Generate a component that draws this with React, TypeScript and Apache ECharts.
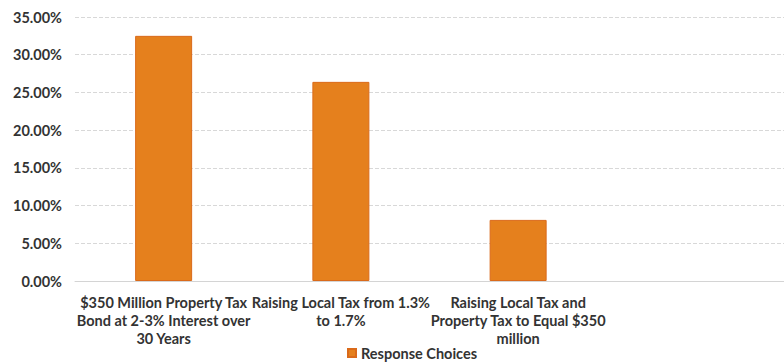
import React, { useEffect, useRef } from "react";
import * as echarts from "echarts";

const categories: string[] = [
  "$350 Million Property Tax\nBond at 2-3% Interest over\n30 Years",
  "Raising Local Tax from 1.3%\nto 1.7%",
  "Raising Local Tax and\nProperty Tax to Equal $350\nmillion",
  "",
];
const responseValues: (number | null)[] = [32.5, 26.4, 8.1, null];
const yTicks = { min: 0, max: 35, interval: 5 };
const seriesName = "Response Choices";

export default function App() {
  const ref = useRef<HTMLDivElement>(null);
  useEffect(() => {
    document.body.style.margin = "0";
    if (!ref.current) return;
    const chart = echarts.init(ref.current, null, { renderer: "svg" });
    const font = "Lato, 'Open Sans', sans-serif";
    chart.setOption({
      animation: false,
      backgroundColor: "#ffffff",
      grid: { left: 75, right: -15, top: 17, bottom: 81, containLabel: false },
      legend: {
        show: true,
        top: 345,
        left: 347,
        padding: 0,
        itemWidth: 8,
        itemHeight: 8,
        itemGap: 4,
        icon: "rect",
        textStyle: { fontFamily: font, fontSize: 14.5, fontWeight: "bold", color: "#333", lineHeight: 16 },
        data: [seriesName],
      },
      xAxis: {
        type: "category",
        data: categories,
        axisLine: { show: true, lineStyle: { color: "#d4d4d4", width: 1 } },
        axisTick: { show: false },
        axisLabel: {
          interval: 0,
          margin: 12,
          fontFamily: font,
          fontSize: 14.5,
          fontWeight: "bold",
          lineHeight: 18,
          color: "#333",
        },
      },
      yAxis: {
        type: "value",
        min: yTicks.min,
        max: yTicks.max,
        interval: yTicks.interval,
        axisLine: { show: false },
        axisTick: { show: false },
        splitLine: { show: true, lineStyle: { color: "#d8d8d8", width: 1, type: [4, 2] } },
        axisLabel: {
          margin: 13,
          fontFamily: font,
          fontSize: 14.5,
          fontWeight: "bold",
          color: "#333",
          formatter: (v: number) => v.toFixed(2) + "%",
        },
      },
      series: [
        {
          name: seriesName,
          type: "bar",
          data: responseValues,
          barWidth: 57,
          itemStyle: { color: "#E5801D", borderColor: "#DA6A1A", borderWidth: 1 },
        },
      ],
    });
    return () => chart.dispose();
  }, []);
  return <div ref={ref} style={{ width: 784, height: 362 }} />;
}
